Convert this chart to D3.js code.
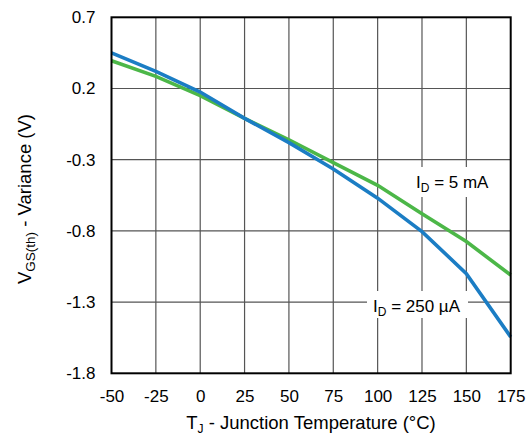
<!DOCTYPE html>
<html><head><meta charset="utf-8">
<script src="https://cdn.jsdelivr.net/npm/d3@7"></script>
<style>body{margin:0;background:#fff}svg{display:block}text{font-family:"Liberation Sans",Arial,sans-serif;fill:#000}</style>
</head><body><svg id="c" width="531" height="441"></svg>
<script>
const temps = [-50,-25,0,25,50,75,100,125,150,175];
const vth250uA = [0.45,0.32,0.175,-0.01,-0.18,-0.365,-0.57,-0.805,-1.10,-1.545];
const vth5mA = [0.395,0.285,0.15,-0.01,-0.16,-0.32,-0.48,-0.68,-0.875,-1.11];
const xTicks = [-50,-25,0,25,50,75,100,125,150,175];
const yTicks = [0.7,0.2,-0.3,-0.8,-1.3,-1.8];

const svg = d3.select("#c");
const L=111.5,R=510.7,T=17.3,B=373.3;
const x = d3.scaleLinear().domain([-50,175]).range([L,R]);
const y = d3.scaleLinear().domain([-1.8,0.7]).range([B,T]);

const g = svg.append("g");
// gridlines
g.selectAll(".vg").data(xTicks.slice(1,-1)).enter().append("line")
 .attr("x1",d=>x(d)).attr("x2",d=>x(d)).attr("y1",T).attr("y2",B)
 .attr("stroke","#555").attr("stroke-width",1.2);
g.selectAll(".hg").data(yTicks.slice(1,-1)).enter().append("line")
 .attr("y1",d=>y(d)).attr("y2",d=>y(d)).attr("x1",L).attr("x2",R)
 .attr("stroke","#555").attr("stroke-width",1.2);

// label background boxes
g.append("rect").attr("x",410).attr("y",167).attr("width",86).attr("height",30).attr("fill","#fff");
g.append("rect").attr("x",367).attr("y",291).attr("width",101).attr("height",27).attr("fill","#fff");

const line = d3.line().x(d=>x(d[0])).y(d=>y(d[1]));
g.append("path").datum(temps.map((t,i)=>[t,vth5mA[i]])).attr("d",line)
 .attr("fill","none").attr("stroke","#4cb748").attr("stroke-width",3.6);
g.append("path").datum(temps.map((t,i)=>[t,vth250uA[i]])).attr("d",line)
 .attr("fill","none").attr("stroke","#1b7dc4").attr("stroke-width",3.6);

// border
g.append("rect").attr("x",L).attr("y",T).attr("width",R-L).attr("height",B-T)
 .attr("fill","none").attr("stroke","#000").attr("stroke-width",2);

// axes labels
const xa = svg.append("g").attr("transform",`translate(0,${B})`)
 .call(d3.axisBottom(x).tickValues(xTicks).tickSize(0).tickPadding(17).tickFormat(d=>String(d)));
xa.select(".domain").remove();
xa.selectAll("text").attr("font-size",17).style("font-family","Liberation Sans, Arial, sans-serif");
const ya = svg.append("g").attr("transform",`translate(${L},0)`)
 .call(d3.axisLeft(y).tickValues(yTicks).tickSize(0).tickPadding(16).tickFormat(d=>d.toFixed(1)));
ya.select(".domain").remove();
ya.selectAll("text").attr("font-size",17).style("font-family","Liberation Sans, Arial, sans-serif");

// series labels
const l1 = svg.append("text").attr("x",416).attr("y",188).attr("font-size",17);
l1.append("tspan").text("I");
l1.append("tspan").attr("font-size",12).attr("dy",4).text("D");
l1.append("tspan").attr("dy",-4).text(" = 5 mA");
const l2 = svg.append("text").attr("x",373).attr("y",312).attr("font-size",17);
l2.append("tspan").text("I");
l2.append("tspan").attr("font-size",12).attr("dy",4).text("D");
l2.append("tspan").attr("dy",-4).text(" = 250 µA");

// x title
const xt = svg.append("text").attr("x",311).attr("y",429).attr("text-anchor","middle").attr("font-size",18.5);
xt.append("tspan").text("T");
xt.append("tspan").attr("font-size",12).attr("dy",4).text("J");
xt.append("tspan").attr("dy",-4).text(" - Junction Temperature (°C)");

// y title
const yt = svg.append("text").attr("transform","translate(31,199) rotate(-90)").attr("text-anchor","middle").attr("font-size",18.5);
yt.append("tspan").text("V");
yt.append("tspan").attr("font-size",13.5).attr("dy",4).text("GS(th)");
yt.append("tspan").attr("dy",-4).text(" - Variance (V)");
</script></body></html>
